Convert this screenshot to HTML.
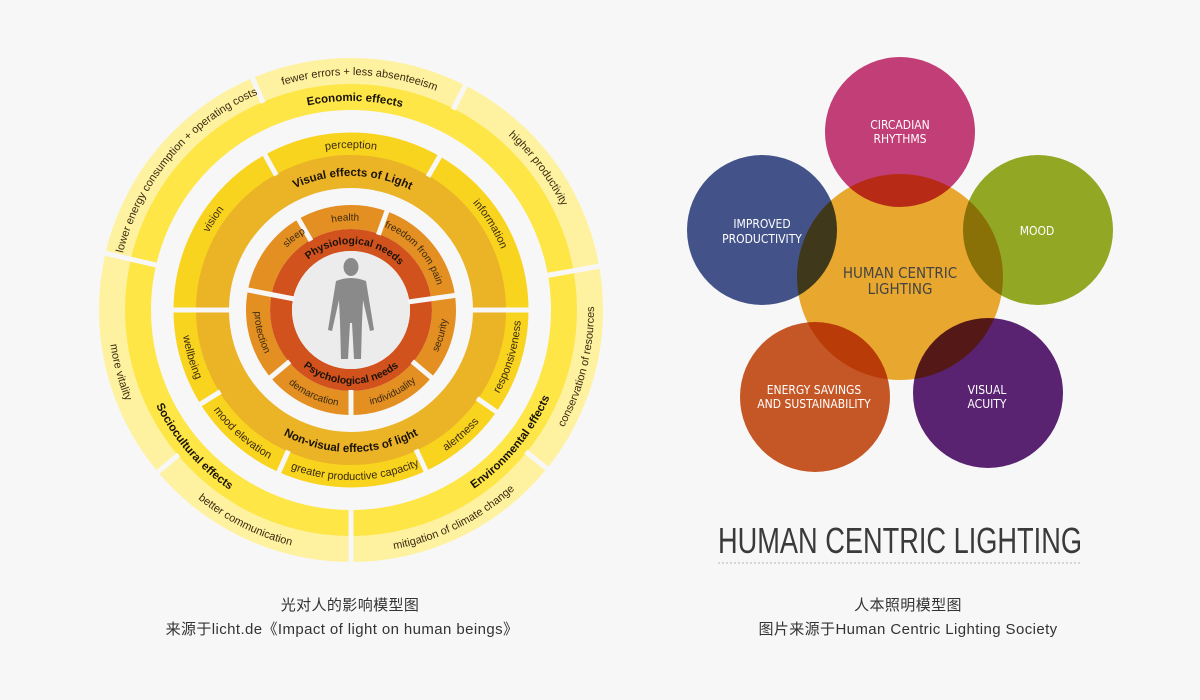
<!DOCTYPE html>
<html><head><meta charset="utf-8"><style>
html,body{margin:0;padding:0;background:#f7f7f7;}
svg{display:block;}
.n{font-family:"Liberation Sans Narrow","Liberation Sans",sans-serif;fill:#3a2a10;}
.b{font-family:"Liberation Sans Narrow","Liberation Sans",sans-serif;font-weight:bold;fill:#1a1208;}
.h{font-family:"Liberation Sans Narrow","DejaVu Sans Condensed",sans-serif;fill:#fff;font-size:12px;text-anchor:middle;}
.cap{font-family:"Liberation Sans","Noto Sans CJK SC",sans-serif;font-size:15px;fill:#333;text-anchor:middle;letter-spacing:0.4px;}
</style></head><body>
<svg width="1200" height="700" viewBox="0 0 1200 700" xmlns="http://www.w3.org/2000/svg">
<defs>
<path id="c235" d="M116,310 A235,235 0 1 1 586,310 A235,235 0 1 1 116,310"/>
<path id="a243" d="M108,310 A243,243 0 1 0 594,310 A243,243 0 1 0 108,310"/>
<path id="c209" d="M142,310 A209,209 0 1 1 560,310 A209,209 0 1 1 142,310"/>
<path id="a217" d="M134,310 A217,217 0 1 0 568,310 A217,217 0 1 0 134,310"/>
<path id="c162" d="M189,310 A162,162 0 1 1 513,310 A162,162 0 1 1 189,310"/>
<path id="a170" d="M181,310 A170,170 0 1 0 521,310 A170,170 0 1 0 181,310"/>
<path id="c134" d="M217,310 A134,134 0 1 1 485,310 A134,134 0 1 1 217,310"/>
<path id="a142" d="M209,310 A142,142 0 1 0 493,310 A142,142 0 1 0 209,310"/>
<path id="c89" d="M261.5,310 A89.5,89.5 0 1 1 440.5,310 A89.5,89.5 0 1 1 261.5,310"/>
<path id="a96" d="M254.5,310 A96.5,96.5 0 1 0 447.5,310 A96.5,96.5 0 1 0 254.5,310"/>
<path id="c66" d="M285,310 A66,66 0 1 1 417,310 A66,66 0 1 1 285,310"/>
<path id="a74" d="M277,310 A74,74 0 1 0 425,310 A74,74 0 1 0 277,310"/>
</defs>
<rect width="1200" height="700" fill="#f7f7f7"/>

<g fill="none">
<circle cx="351" cy="310" r="239" stroke="#fef2a0" stroke-width="26"/>
<circle cx="351" cy="310" r="213" stroke="#fde646" stroke-width="26"/>
<circle cx="351" cy="310" r="166" stroke="#f9d41f" stroke-width="23"/>
<circle cx="351" cy="310" r="138.5" stroke="#ebb326" stroke-width="33"/>
<circle cx="351" cy="310" r="93" stroke="#e38f22" stroke-width="24"/>
<circle cx="351" cy="310" r="70" stroke="#d2521e" stroke-width="22"/>
</g>
<circle cx="351" cy="310" r="59" fill="#ececec"/>

<g stroke="#f7f7f7" stroke-width="5">
<line x1="198" y1="0" x2="254" y2="0" transform="translate(351,310) rotate(-167)"/>
<line x1="198" y1="0" x2="254" y2="0" transform="translate(351,310) rotate(-10)"/>
<line x1="198" y1="0" x2="254" y2="0" transform="translate(351,310) rotate(90)"/>
<line x1="225" y1="0" x2="254" y2="0" transform="translate(351,310) rotate(-113)"/>
<line x1="225" y1="0" x2="254" y2="0" transform="translate(351,310) rotate(-63)"/>
<line x1="225" y1="0" x2="254" y2="0" transform="translate(351,310) rotate(39)"/>
<line x1="225" y1="0" x2="254" y2="0" transform="translate(351,310) rotate(140)"/>

<line x1="120" y1="0" x2="180" y2="0" transform="translate(351,310) rotate(180)"/>
<line x1="120" y1="0" x2="180" y2="0" transform="translate(351,310) rotate(0)"/>
<line x1="154" y1="0" x2="180" y2="0" transform="translate(351,310) rotate(-119)"/>
<line x1="154" y1="0" x2="180" y2="0" transform="translate(351,310) rotate(-60)"/>
<line x1="154" y1="0" x2="180" y2="0" transform="translate(351,310) rotate(148)"/>
<line x1="154" y1="0" x2="180" y2="0" transform="translate(351,310) rotate(114)"/>
<line x1="154" y1="0" x2="180" y2="0" transform="translate(351,310) rotate(65)"/>
<line x1="154" y1="0" x2="180" y2="0" transform="translate(351,310) rotate(35)"/>

<line x1="58" y1="0" x2="108" y2="0" transform="translate(351,310) rotate(-169)"/>
<line x1="58" y1="0" x2="108" y2="0" transform="translate(351,310) rotate(-8)"/>
<line x1="80" y1="0" x2="108" y2="0" transform="translate(351,310) rotate(-120)"/>
<line x1="80" y1="0" x2="108" y2="0" transform="translate(351,310) rotate(-70)"/>
<line x1="80" y1="0" x2="108" y2="0" transform="translate(351,310) rotate(140)"/>
<line x1="80" y1="0" x2="108" y2="0" transform="translate(351,310) rotate(90)"/>
<line x1="80" y1="0" x2="108" y2="0" transform="translate(351,310) rotate(40)"/>
</g>

<g class="n" font-size="11" text-anchor="middle">
<text><textPath href="#c235" startOffset="25.6%">fewer errors + less absenteeism</textPath></text>
<text><textPath href="#c235" startOffset="11.2%">lower energy consumption + operating costs</textPath></text>
<text><textPath href="#c235" startOffset="39.7%">higher productivity</textPath></text>
<text><textPath href="#a243" startOffset="46.1%">conservation of resources</textPath></text>
<text><textPath href="#a243" startOffset="4.2%">more vitality</textPath></text>
<text><textPath href="#a243" startOffset="17.6%">better communication</textPath></text>
<text><textPath href="#a243" startOffset="32.3%">mitigation of climate change</textPath></text>
</g>
<g class="b" font-size="11.5" text-anchor="middle">
<text><textPath href="#c209" startOffset="25.3%">Economic effects</textPath></text>
<text><textPath href="#a217" startOffset="11.4%">Sociocultural effects</textPath></text>
<text><textPath href="#a217" startOffset="39%">Environmental effects</textPath></text>
</g>
<g class="n" font-size="11" text-anchor="middle">
<text><textPath href="#c162" startOffset="25%">perception</textPath></text>
<text><textPath href="#c162" startOffset="9.3%">vision</textPath></text>
<text><textPath href="#c162" startOffset="41.2%">information</textPath></text>
<text><textPath href="#a170" startOffset="4.6%">wellbeing</textPath></text>
<text><textPath href="#a170" startOffset="13.5%">mood elevation</textPath></text>
<text><textPath href="#a170" startOffset="25.4%">greater productive capacity</textPath></text>
<text><textPath href="#a170" startOffset="36.5%">alertness</textPath></text>
<text><textPath href="#a170" startOffset="45.4%">responsiveness</textPath></text>
</g>
<g class="b" font-size="11.5" text-anchor="middle">
<text><textPath href="#c134" startOffset="25.2%">Visual effects of Light</textPath></text>
<text><textPath href="#a142" startOffset="25%">Non-visual effects of light</textPath></text>
</g>
<g class="n" font-size="10" text-anchor="middle">
<text><textPath href="#c89" startOffset="24%">health</textPath></text>
<text><textPath href="#c89" startOffset="14.4%">sleep</textPath></text>
<text><textPath href="#c89" startOffset="38.3%">freedom from pain</textPath></text>
<text><textPath href="#a96" startOffset="3.9%">protection</textPath></text>
<text><textPath href="#a96" startOffset="18.3%">demarcation</textPath></text>
<text><textPath href="#a96" startOffset="32.5%">individuality</textPath></text>
<text><textPath href="#a96" startOffset="45.6%">security</textPath></text>
</g>
<g class="b" font-size="10.5" text-anchor="middle">
<text><textPath href="#c66" startOffset="26%">Physiological needs</textPath></text>
<text><textPath href="#a74" startOffset="25%">Psychological needs</textPath></text>
</g>

<g fill="#8a8a8a">
<ellipse cx="351" cy="267" rx="7.5" ry="9"/>
<path d="M336,281 Q351,275 366,281 L374,330 L370,331 L363,300 L362,322 L361,359 L354,359 L352,323 L350,323 L348,359 L341,359 L340,322 L339,300 L332,331 L328,330 Z"/>
</g>

<circle cx="900" cy="277" r="103" fill="#e8a72e"/>
<g>
<circle cx="900" cy="132" r="75" fill="#c9407a" style="mix-blend-mode:multiply"/>
<circle cx="762" cy="230" r="75" fill="#45558f" style="mix-blend-mode:multiply"/>
<circle cx="1038" cy="230" r="75" fill="#97ad25" style="mix-blend-mode:multiply"/>
<circle cx="815" cy="397" r="75" fill="#cc5a27" style="mix-blend-mode:multiply"/>
<circle cx="988" cy="393" r="75" fill="#5c2475" style="mix-blend-mode:multiply"/>
</g>
<text class="h" x="900" y="129">CIRCADIAN</text>
<text class="h" x="900" y="143">RHYTHMS</text>
<text class="h" x="762" y="228">IMPROVED</text>
<text class="h" x="762" y="243">PRODUCTIVITY</text>
<text class="h" x="1037" y="235">MOOD</text>
<text class="h" x="900" y="278" style="fill:#444;font-size:15px">HUMAN CENTRIC</text>
<text class="h" x="900" y="294" style="fill:#444;font-size:15px">LIGHTING</text>
<text class="h" x="814" y="394">ENERGY SAVINGS</text>
<text class="h" x="814" y="408">AND SUSTAINABILITY</text>
<text class="h" x="987" y="394">VISUAL</text>
<text class="h" x="987" y="408">ACUITY</text>

<text x="718" y="553" textLength="364" lengthAdjust="spacingAndGlyphs" font-family="Liberation Sans Narrow, Liberation Sans, sans-serif" font-size="36" fill="#3a3a3a">HUMAN CENTRIC LIGHTING</text>
<line x1="718" y1="563" x2="1082" y2="563" stroke="#b5b5b5" stroke-width="1" stroke-dasharray="2,2"/>

<text class="cap" x="350" y="610">光对人的影响模型图</text>
<text class="cap" x="342" y="634">来源于licht.de《Impact of light on human beings》</text>
<text class="cap" x="908" y="610">人本照明模型图</text>
<text class="cap" x="908" y="634">图片来源于Human Centric Lighting Society</text>
</svg>
</body></html>
